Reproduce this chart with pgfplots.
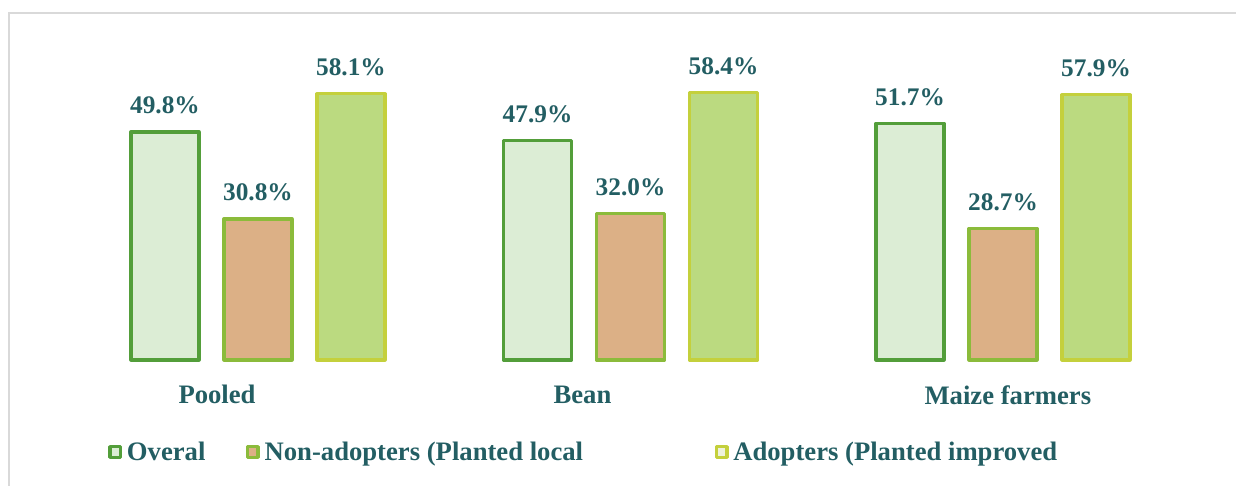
\documentclass[border=0pt]{standalone}
\usepackage{pgfplots}
\pgfplotsset{compat=1.18}
\usepackage{fontspec}
\setmainfont{Liberation Serif}
\definecolor{txt}{HTML}{235E63}
\definecolor{bOneF}{HTML}{DCEDD5}
\definecolor{bOneD}{HTML}{539E3A}
\definecolor{bTwoF}{HTML}{DCB086}
\definecolor{bTwoD}{HTML}{8BBB3B}
\definecolor{bThrF}{HTML}{BBDA80}
\definecolor{bThrD}{HTML}{C4D03C}
\definecolor{legThr}{HTML}{EEF2DC}
\definecolor{frame}{HTML}{D9D9D9}
\begin{document}
\begin{tikzpicture}
\begin{axis}[
  at={(0pt,0pt)}, anchor=south west,
  scale only axis, width=927pt, height=364.5pt,
  xmin=-0.6926, xmax=2.6255, ymin=-27.51, ymax=78.6,
  axis lines=none, clip=false,
  ybar=18.75pt, bar width=51pt,
  /pgf/number format/assume math mode=true,
  nodes near coords={\pgfmathprintnumber[fixed,fixed zerofill,precision=1]{\pgfplotspointmeta}\%},
  every node near coord/.append style={font=\fontsize{19}{22}\selectfont\bfseries, text=txt, anchor=south, inner sep=0pt, yshift=12pt},
  legend columns=3,
  legend style={draw=none, fill=none, at={(0.0874,0.070)}, anchor=west, inner sep=0pt,
    nodes={inner sep=0pt, font=\fontsize{20}{24}\selectfont\bfseries, text=txt},
    /tikz/every odd column/.append style={column sep=3.5pt},
    /tikz/every even column/.append style={column sep=0pt}},
  legend image code/.code={\draw[#1, line width=2.6pt, line join=round] (1.3pt,-3.95pt) rectangle (9.2pt,3.95pt);},
]
\addplot[fill=bOneF, draw=bOneD, line width=2.4pt, line join=round] coordinates {(0,49.8) (1,47.9) (2,51.7)};
\addplot[fill=bTwoF, draw=bTwoD, line width=2.4pt, line join=round] coordinates {(0,30.8) (1,32.0) (2,28.7)};
\addplot[fill=bThrF, draw=bThrD, line width=2.4pt, line join=round,
  legend image code/.code={\draw[draw=bThrD, fill=legThr, line width=2.6pt, line join=round] (1.3pt,-3.95pt) rectangle (9.2pt,3.95pt);}]
  coordinates {(0,58.1) (1,58.4) (2,57.9)};
\addlegendentry{\makebox[89.25pt][l]{Overal}}
\addlegendentry{\makebox[337.5pt][l]{Non-adopters (Planted local}}
\addlegendentry{Adopters (Planted improved}
\node[anchor=base, font=\fontsize{20}{24}\selectfont\bfseries, text=txt, inner sep=0pt] at (axis cs:-0.110,-9.6) {Pooled};
\node[anchor=base, font=\fontsize{20}{24}\selectfont\bfseries, text=txt, inner sep=0pt] at (axis cs:0.871,-9.6) {Bean};
\node[anchor=base, font=\fontsize{20}{24}\selectfont\bfseries, text=txt, inner sep=0pt] at (axis cs:2.013,-9.7) {Maize farmers};
\end{axis}
\draw[frame, line width=1.5pt] (927pt,355.1pt) -- (6.4pt,355.1pt) -- (6.4pt,0pt);
\pgfresetboundingbox
\path (0pt,0pt) rectangle (927pt,364.5pt);
\end{tikzpicture}
\end{document}
